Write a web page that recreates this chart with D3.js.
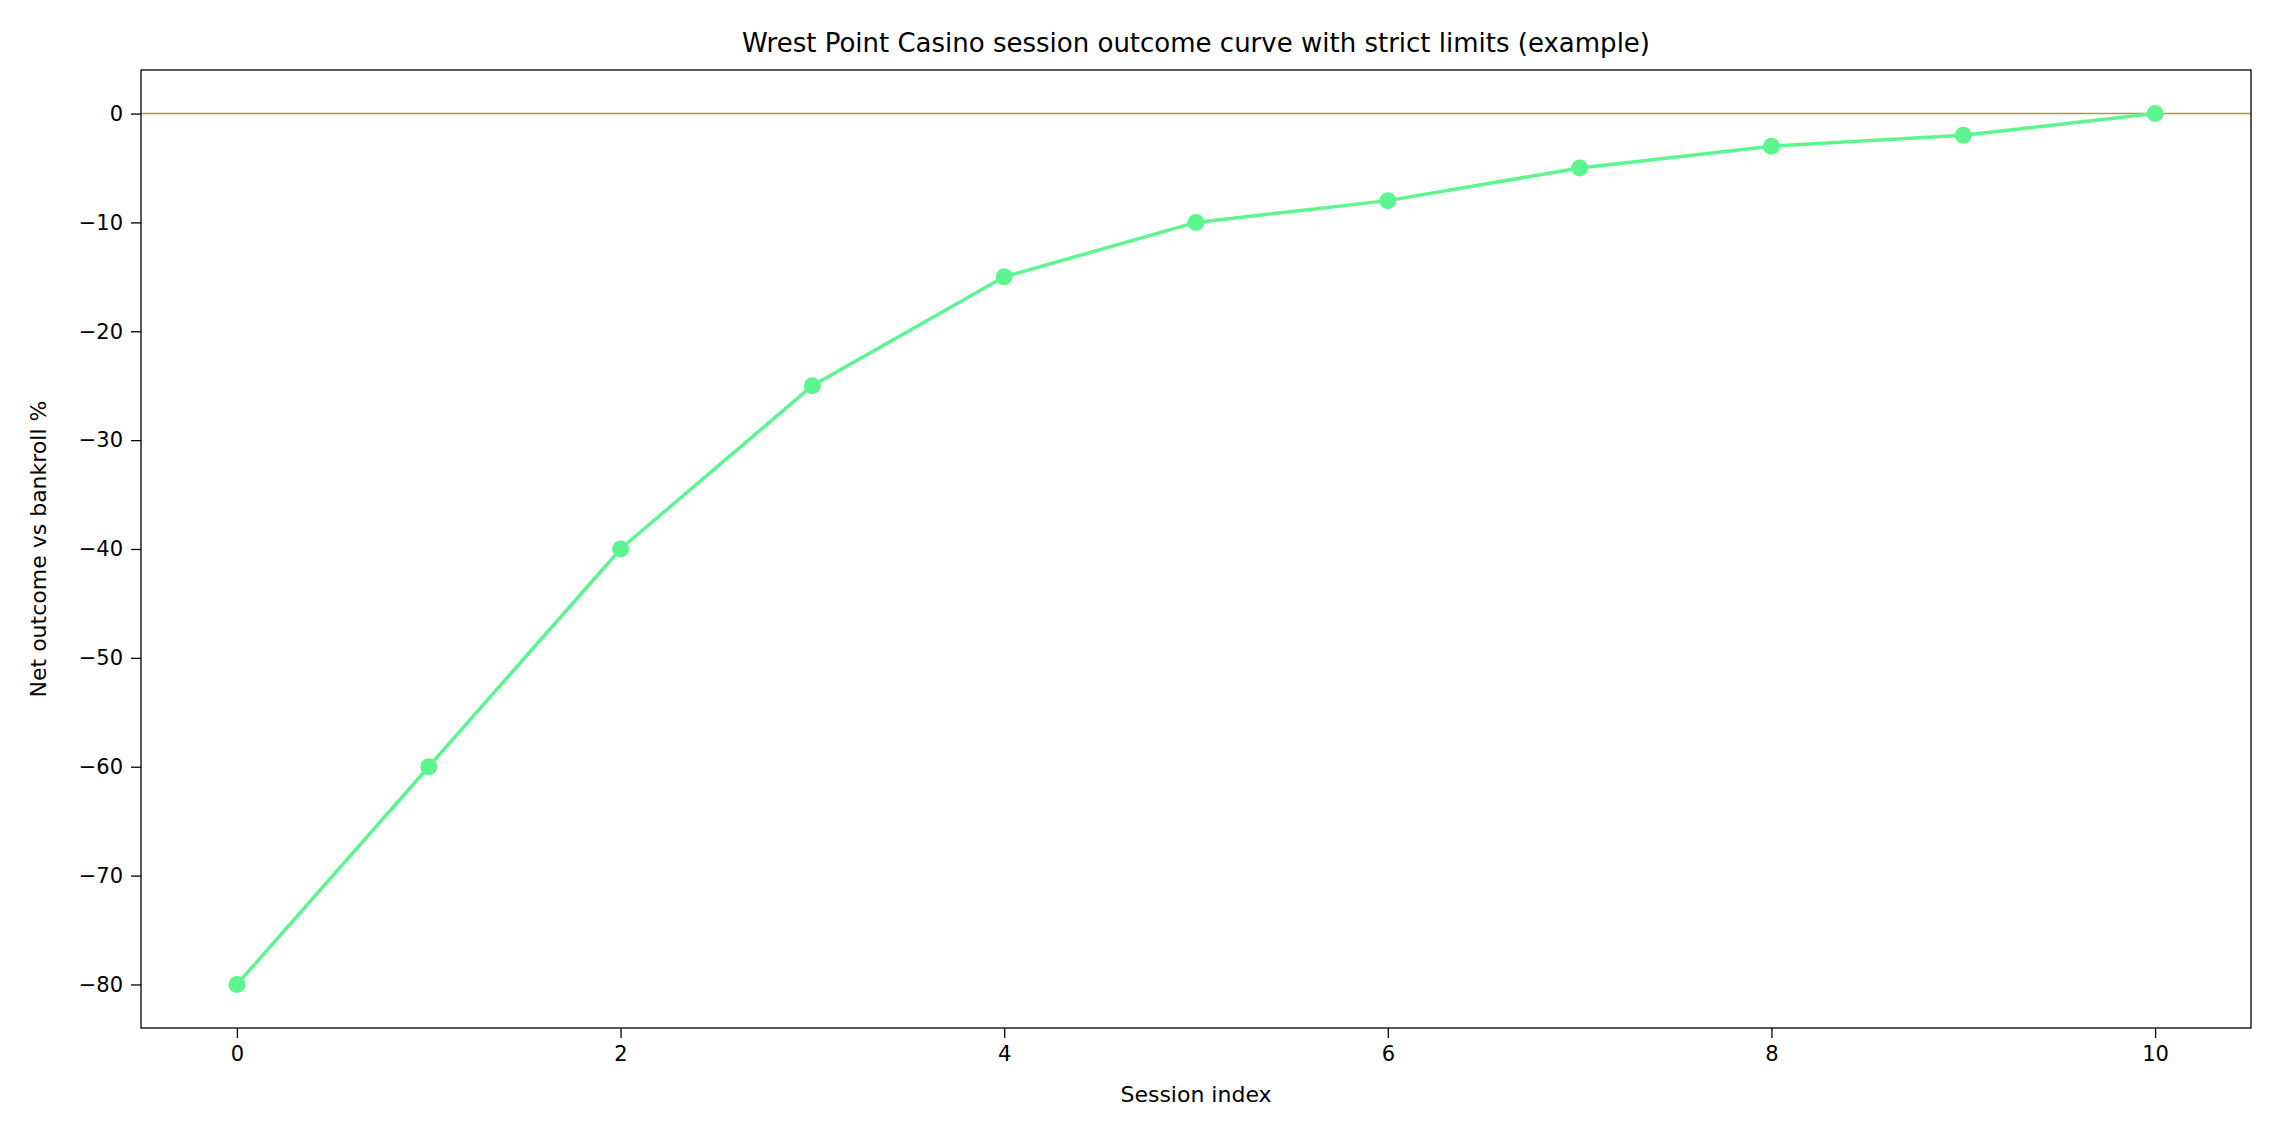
<!DOCTYPE html>
<html>
<head>
<meta charset="utf-8">
<script src="https://cdn.jsdelivr.net/npm/d3@7"></script>
<style>
  body { margin: 0; background: #fff; }
  text { font-family: "DejaVu Sans", sans-serif; fill: #000; }
</style>
</head>
<body>
<script>
// chart data
const sessions = [0, 1, 2, 3, 4, 5, 6, 7, 8, 9, 10];
const outcome = [-80, -60, -40, -25, -15, -10, -8, -5, -3, -2, 0];
const xTicks = [0, 2, 4, 6, 8, 10];
const yTicks = [0, -10, -20, -30, -40, -50, -60, -70, -80];

const width = 2280, height = 1140;
const mLeft = 141, mRight = 2251, mTop = 70, mBottom = 1028;

const svg = d3.select("body").append("svg")
  .attr("width", width)
  .attr("height", height);

const x = d3.scaleLinear().domain([-0.5, 10.5]).range([mLeft, mRight]);
const y = d3.scaleLinear().domain([-84, 4]).range([mBottom, mTop]);

// zero reference line
svg.append("line")
  .attr("x1", mLeft).attr("x2", mRight)
  .attr("y1", y(0)).attr("y2", y(0))
  .style("stroke", "#a89b3c")
  .style("stroke-width", 1.5);

// axes
const xAxis = svg.append("g")
  .attr("transform", `translate(0,${mBottom})`)
  .call(d3.axisBottom(x).tickValues(xTicks).tickSize(10).tickPadding(8).tickFormat(d3.format("d")));
const yAxis = svg.append("g")
  .attr("transform", `translate(${mLeft},0)`)
  .call(d3.axisLeft(y).tickValues(yTicks).tickSize(10).tickPadding(8)
    .tickFormat(d => d < 0 ? "\u2212" + Math.abs(d) : d));

[xAxis, yAxis].forEach(a => {
  a.select(".domain").remove();
  a.selectAll("line").style("stroke", "#000").style("stroke-width", 1.3);
  a.selectAll("text").style("font-size", "21px").style("font-family", "DejaVu Sans");
});

// frame
svg.append("rect")
  .attr("x", mLeft).attr("y", mTop)
  .attr("width", mRight - mLeft).attr("height", mBottom - mTop)
  .style("fill", "none").style("stroke", "#000").style("stroke-width", 1.3);

// line + markers
const pts = sessions.map((s, i) => [s, outcome[i]]);
svg.append("path")
  .datum(pts)
  .attr("d", d3.line().x(d => x(d[0])).y(d => y(d[1])))
  .style("fill", "none")
  .style("stroke", "#5cf590")
  .style("stroke-width", 3.5);

svg.selectAll(".pt")
  .data(pts)
  .enter()
  .append("circle")
  .attr("class", "pt")
  .attr("cx", d => x(d[0]))
  .attr("cy", d => y(d[1]))
  .attr("r", 8.5)
  .style("fill", "#5cf590");

// titles
svg.append("text")
  .attr("x", (mLeft + mRight) / 2).attr("y", 52)
  .attr("text-anchor", "middle")
  .style("font-size", "26px")
  .text("Wrest Point Casino session outcome curve with strict limits (example)");

svg.append("text")
  .attr("x", (mLeft + mRight) / 2).attr("y", 1102)
  .attr("text-anchor", "middle")
  .style("font-size", "22px")
  .text("Session index");

svg.append("text")
  .attr("transform", `translate(46,${(mTop + mBottom) / 2}) rotate(-90)`)
  .attr("text-anchor", "middle")
  .style("font-size", "22px")
  .text("Net outcome vs bankroll %");
</script>
</body>
</html>
